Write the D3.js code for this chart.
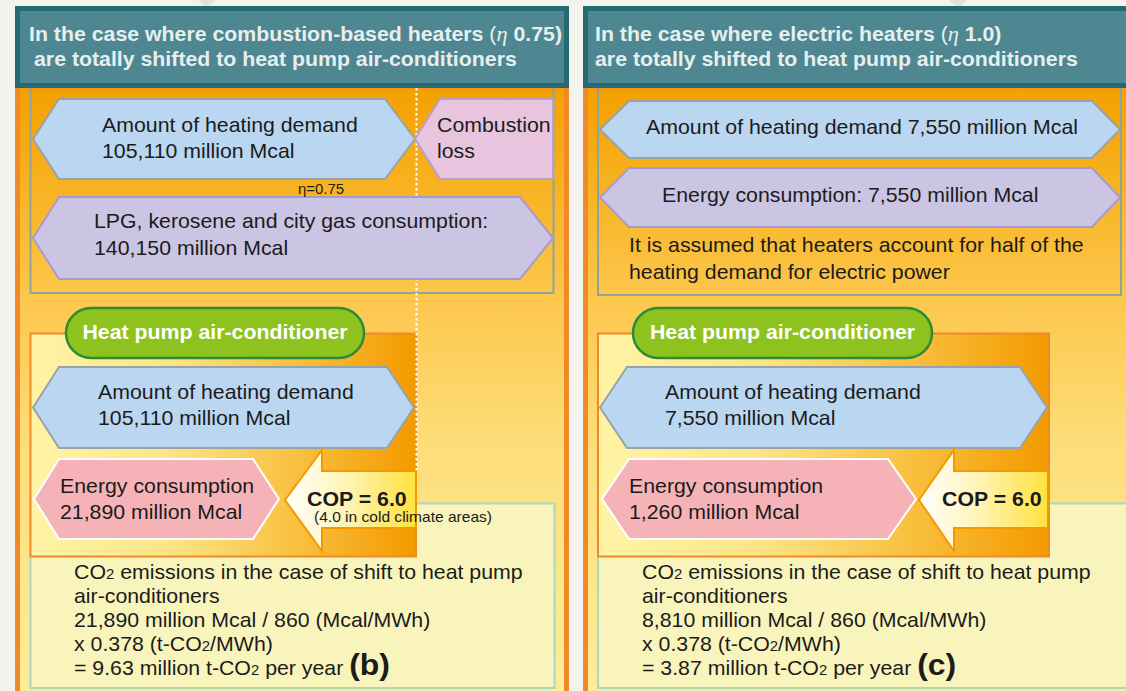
<!DOCTYPE html>
<html><head><meta charset="utf-8">
<script src="https://cdn.jsdelivr.net/npm/d3@7"></script>
<style>
html,body{margin:0;padding:0;background:#f4f2ee;overflow:hidden;}
svg{display:block;}
text{font-family:"Liberation Sans",Arial,Helvetica,sans-serif;fill:#1b1b1b;}
</style></head><body>
<svg id="c" width="1126" height="691"></svg>
<script>
// ---------------- data ----------------
const caseTags = ["(b)", "(c)"];
const heaterTypes = ["combustion-based heaters", "electric heaters"];
const etaValues = ["0.75", "1.0"];
const heatingDemand = [105110, 7550];          // million Mcal
const inputLabels = ["LPG, kerosene and city gas consumption:", "Energy consumption:"];
const inputConsumption = [140150, 7550];       // million Mcal
const hpConsumption = [21890, 1260];           // million Mcal
const copValues = [6.0, 6.0];
const copNotes = ["(4.0 in cold climate areas)", ""];
const co2BaseConsumption = [21890, 8810];      // million Mcal
const mcalPerMWh = 860;
const emissionFactor = 0.378;                  // t-CO2/MWh
const co2Results = [9.63, 3.87];               // million t-CO2 per year
const noteLines = ["It is assumed that heaters account for half of the", "heating demand for electric power"];

const fmt = d3.format(",");
const SX = 1.065;

const svg = d3.select("#c");
const defs = svg.append("defs");

// ---------------- helpers ----------------
function T(g, x, y, parts, o = {}) {
  const t = g.append("text")
    .attr("transform", `translate(${x},${y}) scale(${o.sx || SX},1)`)
    .style("font-size", (o.size || 20) + "px")
    .style("font-weight", o.weight || "normal")
    .attr("text-anchor", o.anchor || "start");
  if (o.fill) t.style("fill", o.fill);
  if (typeof parts === "string") parts = [{ t: parts }];
  parts.forEach(p => {
    const s = t.append("tspan").text(p.t);
    if (p.size) s.style("font-size", p.size + "px");
    if (p.weight) s.style("font-weight", p.weight);
    if (p.style) s.style("font-style", p.style);
    if (p.family) s.style("font-family", p.family);
    if (p.fill) s.style("fill", p.fill);
  });
  return t;
}
const line = d3.line();
function hex(g, h, fill, stroke, sw) {
  const m = (h.y0 + h.y1) / 2;
  const pts = [[h.x0, m], [h.x0 + h.il, h.y0], [h.x1 - h.ir, h.y0], [h.x1, m], [h.x1 - h.ir, h.y1], [h.x0 + h.il, h.y1]];
  g.append("path").attr("d", line(pts) + "Z").attr("fill", fill).attr("stroke", stroke).attr("stroke-width", sw).attr("stroke-linejoin", "miter");
}
function lin(id, x1, y1, x2, y2, stops) {
  const gr = defs.append("linearGradient").attr("id", id).attr("gradientUnits", "userSpaceOnUse")
    .attr("x1", x1).attr("y1", y1).attr("x2", x2).attr("y2", y2);
  stops.forEach(s => gr.append("stop").attr("offset", s[0]).attr("stop-color", s[1]));
}

// ---------------- layout ----------------
const layout = [
  {
    panelX: 17.5, panelW: 549, l1x: 29, l2x: 34,
    inner: { x: 30.5, w: 523, h: 213 },
    demand: { x0: 33, x1: 415, y0: 99, y1: 179, il: 26, ir: 30 },
    loss: { x0: 415, x1: 553, y0: 99, y1: 179, il: 25, ir: 0 },
    input: { x0: 33, x1: 553, y0: 197, y1: 279, il: 26, ir: 33 },
    pill: { x: 66, w: 298 },
    hp: { x: 30.5, w: 385.5 },
    demand2: { x0: 33, x1: 414, y0: 367, y1: 448, il: 26, ir: 27 },
    cons2: { x0: 34, x1: 279, y0: 459, y1: 539, il: 25, ir: 26 },
    cop: { tip: 285, head: 322, end: 416 },
    co2: { x: 30.5, w: 524 },
    tx: { demand: 102, input: 94, demand2: 98, cons2: 60, cop: 307, co2: 74 },
    twoLine: true, dotted: 416.5
  },
  {
    panelX: 585.5, panelW: 560, l1x: 595, l2x: 595,
    inner: { x: 598, w: 523, h: 215 },
    demand: { x0: 600, x1: 1120, y0: 101, y1: 158, il: 29, ir: 28 },
    loss: null,
    input: { x0: 600, x1: 1120, y0: 168, y1: 227, il: 29, ir: 28 },
    pill: { x: 633, w: 299 },
    hp: { x: 598, w: 451 },
    demand2: { x0: 600, x1: 1047, y0: 367, y1: 448, il: 27, ir: 27 },
    cons2: { x0: 602, x1: 916, y0: 459, y1: 539, il: 27, ir: 28 },
    cop: { tip: 919, head: 954, end: 1048 },
    co2: { x: 598, w: 540 },
    tx: { demand: 646, input: 662, demand2: 665, cons2: 629, cop: 942, co2: 642, note: 629 },
    twoLine: false, dotted: null
  }
];

// background
svg.append("rect").attr("width", 1126).attr("height", 691).attr("fill", "#f4f2ee");
// small grey pointer triangles at the top
[207, 958].forEach(cx => {
  svg.append("path").attr("d", line([[cx - 9, 0], [cx + 9, 0], [cx, 8]]) + "Z").attr("fill", "#e1e1df");
});

layout.forEach((L, i) => {
  const g = svg.append("g");
  const gid = "p" + i;
  lin(gid + "o", 0, 88, 0, 690, [[0, "#f4a000"], [0.1, "#f6ab14"], [0.36, "#fcc84e"], [0.6, "#fdde7a"], [1, "#feec98"]]);
  lin(gid + "h", L.hp.x, 0, L.hp.x + L.hp.w, 0, [[0, "#fff4a6"], [0.35, "#fde588"], [0.65, "#f9c548"], [1, "#f39a00"]]);
  lin(gid + "c", L.cop.tip, 0, L.cop.end, 0, [[0, "#ffffff"], [0.45, "#fff4b8"], [1, "#ffe13e"]]);

  // outer orange panel
  g.append("rect").attr("x", L.panelX).attr("y", 86).attr("width", L.panelW).attr("height", 640)
    .attr("fill", `url(#${gid}o)`).attr("stroke", "#f08a26").attr("stroke-width", 5);
  // inner top frame
  g.append("rect").attr("x", L.inner.x).attr("y", 80).attr("width", L.inner.w).attr("height", L.inner.h)
    .attr("fill", "none").attr("stroke", "#8ea59f").attr("stroke-width", 2);
  // CO2 box
  g.append("rect").attr("x", L.co2.x).attr("y", 503.5).attr("width", L.co2.w).attr("height", 184.5)
    .attr("fill", "#f8f4bb").attr("stroke", "#a8d8c2").attr("stroke-width", 2);
  // heat pump box
  g.append("rect").attr("x", L.hp.x).attr("y", 333.5).attr("width", L.hp.w).attr("height", 223)
    .attr("fill", `url(#${gid}h)`).attr("stroke", "#f08a26").attr("stroke-width", 2);
  // dotted divider
  if (L.dotted) {
    g.append("line").attr("x1", L.dotted).attr("x2", L.dotted).attr("y1", 88).attr("y2", 470)
      .attr("stroke", "#ffffff").attr("stroke-width", 2).attr("stroke-dasharray", "2.5,2.5");
  }
  // header
  g.append("rect").attr("x", L.panelX).attr("y", 8.5).attr("width", L.panelW).attr("height", 77)
    .attr("fill", "#4e8791").attr("stroke", "#246a70").attr("stroke-width", 5);
  const hc = "#e6efee";
  T(g, L.l1x, 40.5, [
    { t: "In the case where " + heaterTypes[i] + " " },
    { t: "(", weight: "normal" },
    { t: "\u03B7", family: "'Liberation Serif','DejaVu Serif',serif", style: "italic", weight: "normal", size: 21 },
    { t: " " + etaValues[i] + ")" }
  ], { weight: "bold", fill: hc });
  T(g, L.l2x, 66, "are totally shifted to heat pump air-conditioners", { weight: "bold", fill: hc });

  // top hexagons
  hex(g, L.demand, "#bad6f0", "#98a3a7", 2);
  hex(g, L.input, "#cbc4e3", "#a59bd0", 2);
  if (L.loss) hex(g, L.loss, "#e8c4df", "#b8a0cf", 2);

  if (L.twoLine) {
    T(g, L.tx.demand, 132, "Amount of heating demand");
    T(g, L.tx.demand, 158, fmt(heatingDemand[i]) + " million Mcal");
    T(g, 437, 132, "Combustion");
    T(g, 437, 158, "loss");
    T(g, 298, 194, "\u03B7=" + etaValues[i], { size: 14 });
    T(g, L.tx.input, 228, inputLabels[i]);
    T(g, L.tx.input, 255, fmt(inputConsumption[i]) + " million Mcal");
  } else {
    T(g, L.tx.demand, 134, "Amount of heating demand " + fmt(heatingDemand[i]) + " million Mcal");
    T(g, L.tx.input, 202, inputLabels[i] + " " + fmt(inputConsumption[i]) + " million Mcal");
    T(g, L.tx.note, 252, noteLines[0]);
    T(g, L.tx.note, 279, noteLines[1]);
  }

  // heat pump section
  hex(g, L.demand2, "#bad6f0", "#98a3a7", 2);
  hex(g, L.cons2, "#f5b3b8", "#ffffff", 2);
  const c = L.cop;
  g.append("path").attr("d", line([[c.tip, 500], [c.head, 450], [c.head, 471], [c.end, 471], [c.end, 528], [c.head, 528], [c.head, 551]]) + "Z")
    .attr("fill", `url(#${gid}c)`).attr("stroke", "#f29a00").attr("stroke-width", 2);
  g.append("rect").attr("x", L.pill.x).attr("y", 308).attr("width", L.pill.w).attr("height", 50).attr("rx", 25)
    .attr("fill", "#8dc21f").attr("stroke", "#2d8b36").attr("stroke-width", 2.5);
  T(g, L.pill.x + L.pill.w / 2, 339, "Heat pump air-conditioner", { weight: "bold", anchor: "middle", fill: "#ffffff" });

  T(g, L.tx.demand2, 399, "Amount of heating demand");
  T(g, L.tx.demand2, 425, fmt(heatingDemand[i]) + " million Mcal");
  T(g, L.tx.cons2, 493, "Energy consumption");
  T(g, L.tx.cons2, 519, fmt(hpConsumption[i]) + " million Mcal");
  T(g, L.tx.cop, 506, "COP = " + copValues[i].toFixed(1), { weight: "bold" });
  if (copNotes[i]) T(g, L.tx.cop + 7, 522, copNotes[i], { size: 14.6 });

  // CO2 text
  const x = L.tx.co2;
  T(g, x, 579, [{ t: "CO" }, { t: "2", size: 14 }, { t: " emissions in the case of shift to heat pump" }]);
  T(g, x, 603, "air-conditioners");
  T(g, x, 627, fmt(co2BaseConsumption[i]) + " million Mcal / " + mcalPerMWh + " (Mcal/MWh)");
  T(g, x, 651, [{ t: "x " + emissionFactor + " (t-CO" }, { t: "2", size: 14 }, { t: "/MWh)" }]);
  T(g, x, 675, [{ t: "= " + co2Results[i] + " million t-CO" }, { t: "2", size: 14 }, { t: " per year " },
    { t: caseTags[i], weight: "bold", size: 30 }]);
});
</script></body></html>
